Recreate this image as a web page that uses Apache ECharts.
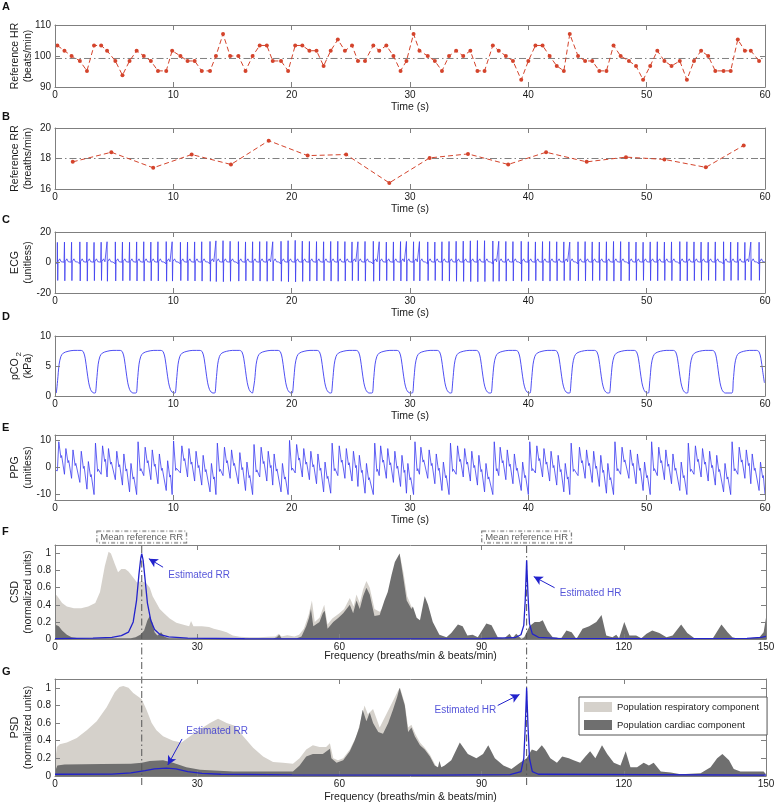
<!DOCTYPE html>
<html><head><meta charset="utf-8">
<script src="https://cdn.jsdelivr.net/npm/echarts@6/dist/echarts.min.js"></script>
<style>html,body{margin:0;padding:0;background:#fff}#c{width:778px;height:806px}</style>
</head><body><div id="c"></div><script>
// ---------- Panel A: reference HR ----------
const hrTimes = [0.2,0.8,1.4,2.1,2.7,3.3,3.9,4.4,5.1,5.7,6.3,6.9,7.5,8.1,8.7,9.4,9.9,10.6,11.2,11.8,
12.4,13.1,13.6,14.2,14.8,15.5,16.1,16.7,17.3,17.9,18.4,19.1,19.7,20.3,20.9,21.5,22.1,22.7,23.3,23.9,
24.5,25.1,25.6,26.2,26.9,27.4,28.0,28.6,29.2,29.7,30.3,30.8,31.5,32.1,32.7,33.3,33.9,34.5,35.1,35.7,
36.3,37.0,37.5,38.1,38.7,39.4,40.0,40.6,41.2,41.8,42.4,43.0,43.5,44.2,44.8,45.4,46.0,46.6,47.2,47.8,
48.5,49.1,49.7,50.3,50.9,51.5,52.1,52.8,53.4,54.0,54.6,55.2,55.8,56.5,57.1,57.7,58.3,58.8,59.5];
const hrValues = [103.4,101.7,100,98.4,95.2,103.4,103.4,101.7,98.4,93.8,98.4,101.7,100,98.4,95.2,95.2,101.7,100,98.4,98.4,
95.2,95.2,100,107.1,100,100,95.2,100,103.4,103.4,98.4,98.4,95.2,103.4,103.4,101.7,101.7,96.8,101.7,105.3,
101.7,103.4,98.4,98.4,103.4,101.7,103.4,100,95.2,98.4,107.1,101.7,100,98.4,95.2,100,101.7,100,101.7,95.2,
95.2,103.4,101.7,100,98.4,92.3,98.4,103.4,103.4,100,96.8,95.2,107.1,100,98.4,98.4,95.2,95.2,103.4,100,
98.4,96.8,92.3,96.8,101.7,98.4,96.8,98.4,92.3,98.4,101.7,100,95.2,95.2,95.2,105.3,101.7,101.7,98.4];
const hrMean = 99.2;

// ---------- Panel B: reference RR ----------
const rrTimes = [1.5,4.76,8.3,11.55,14.87,18.06,21.35,24.6,28.25,31.66,34.9,38.3,41.5,44.93,48.25,51.5,55.0,58.2];
const rrValues = [17.78,18.41,17.39,18.26,17.61,19.17,18.19,18.26,16.4,18.04,18.3,17.61,18.41,17.78,18.09,17.94,17.42,18.86];
const rrMean = 18.0;

// ---------- Panel C: ECG (R-peak per beat at hrTimes) ----------
const ecgR = [13.2,13.4,13.3,13.5,13.4,13.2,13.3,13.6,13.5,13.4,13.3,13.5,13.6,13.4,13.6,13.7,13.6,13.3,13.4,13.5,
13.6,13.8,14.2,14.3,13.9,13.7,13.5,13.6,13.7,13.8,13.6,13.9,14.3,14.5,14.0,13.8,13.7,13.6,13.8,13.9,
13.7,13.5,13.6,13.8,13.9,13.6,13.4,13.5,13.7,13.8,13.6,13.7,13.5,13.4,13.6,13.8,13.9,14.0,14.2,14.4,
14.3,14.1,13.9,13.8,13.7,13.9,13.6,13.5,13.7,13.8,13.6,13.5,13.4,13.6,13.7,13.5,13.4,13.6,13.8,13.7,
13.5,13.4,13.3,13.5,13.6,13.4,13.5,13.7,13.6,13.5,13.4,13.3,13.5,13.6,13.4,13.3,13.2,13.4,13.3];
const ecgS = [-11.8,-12.0,-11.9,-12.1,-12.2,-11.9,-11.8,-12.3,-12.1,-12.0,-11.9,-12.1,-12.2,-12.0,-12.1,-12.3,-12.2,-11.9,-12.0,-12.1,
-12.2,-12.3,-12.5,-12.6,-12.3,-12.2,-12.0,-12.1,-12.2,-12.3,-12.1,-12.3,-12.6,-12.7,-12.4,-12.2,-12.1,-12.0,-12.2,-12.3,
-12.1,-11.9,-12.0,-12.2,-12.3,-12.0,-11.9,-12.0,-12.1,-12.2,-12.0,-12.1,-11.9,-11.8,-12.0,-12.2,-12.3,-12.4,-12.5,-12.6,
-12.5,-12.4,-12.3,-12.2,-12.1,-12.3,-12.0,-11.9,-12.1,-12.2,-12.0,-11.9,-11.8,-12.0,-12.1,-11.9,-11.8,-12.0,-12.2,-12.1,
-11.9,-11.8,-11.7,-11.9,-12.0,-11.8,-11.9,-12.1,-12.0,-11.9,-11.8,-11.7,-11.9,-12.0,-11.8,-11.7,-11.6,-11.8,-11.7];
const ecgTemplate = [[-0.2,0.3],[-0.16,1.3],[-0.12,0.4],[-0.04,0.2],[-0.02,-0.8],[0,'R'],[0.03,'S'],[0.06,0.6],[0.14,1.0],[0.2,2.4],[0.26,2.6],[0.32,0.5]];

// ---------- Panel D: pCO2 (breath onsets) ----------
const pco2Onsets = [0.1,3.4,6.85,10.15,13.5,16.75,20.05,23.35,26.8,30.2,33.5,36.85,40.15,43.5,46.85,50.15,53.45,57.2];
const pco2Shape = [[0,0.5],[0.12,2.6],[0.25,5.3],[0.4,6.6],[0.6,7.15],[1.0,7.45],[1.5,7.6],[2.1,7.6],[2.3,7.35],[2.45,6.3],[2.6,4.2],[2.75,2.2],[2.9,1.1],[3.05,0.65],[3.2,0.5]];

// ---------- Panel E: PPG (foot / peak per beat) ----------
const ppgFoot = [-1.2,-2.5,-4,-5.5,-8, -10,-2.5,-3.5,-4.5,-6.5,-9, -10,-3,-4.5,-6,-8.5, -10,-2,-3.5,-5,-6.5,-9,
-10,-3,-4,-6,-8.5, -10,-3.5,-5,-6.5,-9, -10,-2,-3.5,-4.5,-6,-9, -9.5,-3,-4,-5,-7,-9.5, -10,-3,-4,-5.5,-7,-9.5,
-10,-2.5,-4,-6,-8.5, -10,-2.5,-3.5,-5,-6.5,-9, -10,-3,-4.5,-6,-8.5, -10,-2,-3.5,-5,-6.5,-9, -10,-3,-4,-5.5,-7,-9.5,
-10,-2.5,-4,-6,-8.5, -10,-3,-4.5,-6,-8.5, -10,-2.5,-3.5,-5,-6.5,-9, -10,-2.5,-4,-6,-8.5];
const ppgPeak = [9.5,7,6.5,6,2.2, 9,8,7,6,5,1.5, 9.5,7.5,6.5,5,2.5, 9.8,8,7,6,4.5,1.5,
9,7.5,6.5,5.5,2, 8.5,7.5,6,5,1.5, 10,8.5,7,6,5,2, 9,8,7,6,4.5,1.5, 9,8,7,6,4.5,1.5,
9.5,7.5,6.5,5,2, 9,8,7,6,4.5,1.5, 9.5,7.5,6.5,5,2, 9.5,8,7,6,4.5,1.5, 9,7.5,6.5,6,4.5,1.5,
9.5,7.5,6.5,5,2, 9.5,7.5,6.5,5,2, 9,8,7,6,4.5,1.5, 9.5,7.5,6.5,5,2];

// ---------- Panel F: CSD ----------
const csdResp = [[0,0.53],[0.5,0.5],[1.5,0.42],[2.5,0.38],[4,0.36],[5.5,0.36],[7,0.38],[8.5,0.42],[9.5,0.55],[10.5,0.85],[11.3,1.02],[11.8,1.0],[12.6,0.88],[13.3,0.78],[14,0.82],[14.8,0.82],[15.5,0.79],[16.5,0.72],[17.3,0.66],[18.3,0.68],[19.3,0.65],[20,0.6],[20.6,0.5],[21.4,0.42],[22.1,0.35],[23,0.3],[24.2,0.24],[25.6,0.19],[27.5,0.16],[28.3,0.15],[28.7,0.21],[29.2,0.15],[31,0.15],[32.5,0.14],[33.5,0.12],[35,0.1],[36.2,0.08],[37.5,0.04],[39,0.025],[41,0.02],[43,0.02],[45,0.025],[46.5,0.03],[47.2,0.06],[47.8,0.03],[49,0.045],[50.5,0.03],[51.5,0.05],[52.5,0.12],[53.5,0.28],[54.2,0.45],[54.8,0.2],[55.8,0.25],[56.8,0.4],[57.5,0.17],[58.5,0.24],[60,0.3],[61,0.35],[62.2,0.48],[63,0.38],[63.6,0.52],[64.3,0.42],[65,0.58],[65.7,0.68],[66.4,0.6],[67.4,0.35],[68.5,0.32],[69.9,0.42],[71,0.6],[72,0.85],[72.7,1.0],[73.5,0.78],[74.3,0.5],[75.2,0.38],[76.5,0.2],[78,0.1],[80,0.02],[150,0.01]];
const csdCard = [[0,0.17],[0.8,0.15],[1.5,0.1],[2.5,0.05],[3.5,0.02],[5,0.01],[16,0.01],[17,0.02],[18,0.05],[18.8,0.1],[19.5,0.22],[20,0.27],[20.5,0.2],[21,0.08],[21.6,0.04],[22.4,0.08],[23,0.03],[24,0.01],[46,0.005],[46.8,0.02],[47.3,0.05],[47.8,0.01],[51,0.01],[52,0.03],[53,0.15],[53.6,0.25],[54,0.35],[54.5,0.15],[55.8,0.2],[56.5,0.3],[56.9,0.33],[57.5,0.12],[58.7,0.2],[59.8,0.25],[60.8,0.3],[61.5,0.35],[62.2,0.4],[62.9,0.3],[63.6,0.45],[64.3,0.35],[65,0.5],[65.7,0.6],[66.4,0.52],[67.4,0.27],[68.5,0.28],[69.5,0.45],[70.2,0.55],[71,0.75],[71.7,0.9],[72.7,1.0],[73.4,0.75],[74.2,0.45],[75.2,0.35],[75.5,0.38],[76.3,0.25],[77,0.22],[78,0.5],[78.7,0.4],[79.7,0.2],[81.1,0.05],[82.6,0.02],[83.6,0.07],[85,0.17],[86,0.15],[87,0.04],[88.1,0.05],[89.2,0.02],[91,0.18],[92.1,0.16],[93.4,0.02],[94.8,0.01],[95.9,0.06],[96.5,0.01],[97.3,0.06],[98.4,0.0],[99,0.02],[100.1,0.15],[101.2,0.2],[102.2,0.2],[102.9,0.22],[103.9,0.1],[105,0.02],[106.8,0.01],[107.9,0.1],[109,0.08],[110,0.0],[111.3,0.12],[112.7,0.15],[114.2,0.2],[115.3,0.28],[116.3,0.04],[117.6,0.02],[118.4,0.05],[119,0.01],[120.1,0.2],[121.2,0.04],[122.6,0.04],[123.7,0.01],[124.8,0.06],[126,0.1],[127.5,0.07],[129,0.02],[130.3,0.04],[132.1,0.17],[133.4,0.07],[134.9,0.01],[136.6,0.0],[138.7,0.0],[140.6,0.17],[141.9,0.08],[142.9,0.02],[144.4,0.0],[148.6,0.02],[149.5,0.08],[150,0.25]];
const csdEst = [[0,0.005],[8,0.01],[12,0.02],[14,0.04],[15.5,0.08],[16.5,0.2],[17.2,0.45],[17.7,0.75],[18.1,0.95],[18.3,1.0],[18.6,0.92],[19,0.7],[19.5,0.42],[20.2,0.22],[21,0.11],[22.2,0.05],[24,0.025],[28,0.01],[40,0.003],[60,0.002],[90,0.004],[97,0.015],[98.3,0.05],[98.9,0.16],[99.2,0.45],[99.5,0.92],[99.8,0.5],[100.1,0.18],[100.7,0.06],[102,0.02],[106,0.008],[130,0.004],[146,0.008],[149,0.02],[150,0.03]];

// ---------- Panel G: PSD ----------
const psdResp = [[0,0.15],[0.4,0.33],[1,0.36],[2.5,0.38],[4.6,0.43],[6.7,0.52],[8.8,0.62],[10.9,0.78],[12.6,0.95],[13.6,1.01],[14.4,1.02],[15.5,1.0],[16.5,0.94],[17.6,0.9],[18.3,0.87],[19.3,0.75],[20.4,0.6],[21.4,0.52],[22.8,0.45],[24.9,0.4],[26.7,0.38],[28.5,0.45],[30.6,0.53],[32.7,0.6],[34.4,0.65],[36.2,0.6],[37.9,0.57],[39.7,0.45],[41.8,0.32],[43.9,0.22],[46,0.16],[48.1,0.15],[50.2,0.14],[51.6,0.2],[53,0.3],[54.4,0.35],[55.8,0.33],[57.2,0.33],[58,0.37],[58.7,0.2],[59.7,0.18],[60.8,0.2],[62.2,0.3],[63.6,0.45],[64.6,0.65],[65.3,0.8],[66,0.7],[67.1,0.76],[68.5,0.55],[69.9,0.7],[71.3,0.85],[72.4,0.97],[72.8,1.0],[73.8,0.82],[74.5,0.55],[75.2,0.58],[76,0.48],[77,0.38],[78,0.32],[79.1,0.24],[80.1,0.14],[81,0.05],[90,0.02],[150,0.02]];
const psdCard = [[0,0.05],[0.5,0.12],[2,0.13],[10,0.135],[16,0.14],[18.3,0.15],[20,0.17],[22.8,0.18],[24.9,0.15],[27.7,0.1],[30.6,0.07],[37.6,0.05],[50.2,0.05],[51.6,0.12],[53,0.22],[54.4,0.25],[56.5,0.25],[58,0.31],[58.3,0.2],[59.4,0.15],[60.8,0.18],[62.2,0.28],[63.2,0.4],[64.2,0.55],[64.9,0.75],[65.7,0.62],[66.4,0.72],[67.1,0.6],[68.2,0.5],[69.2,0.48],[70.3,0.6],[71.3,0.75],[72.2,0.9],[72.7,1.0],[73.8,0.8],[74.5,0.5],[75.2,0.55],[75.9,0.45],[77,0.35],[78,0.3],[79.1,0.22],[80.1,0.12],[80.8,0.1],[81.1,0.17],[81.5,0.1],[82.2,0.12],[83.6,0.18],[85.4,0.38],[87.1,0.25],[88.9,0.2],[90.3,0.25],[91.4,0.35],[92.8,0.2],[94.6,0.12],[96.3,0.08],[98.1,0.15],[99.5,0.2],[100.6,0.3],[101.6,0.28],[102.7,0.35],[103.4,0.3],[104.5,0.2],[105.9,0.15],[107,0.22],[108.4,0.2],[109.4,0.18],[110.8,0.15],[111.9,0.22],[112.9,0.28],[114,0.2],[115.4,0.35],[116.5,0.25],[117.9,0.15],[119.3,0.12],[120.4,0.28],[121.4,0.1],[122.8,0.1],[124.2,0.15],[125.3,0.12],[126.3,0.15],[127.8,0.05],[129.9,0.04],[132,0.02],[136.2,0.03],[138.3,0.1],[139.7,0.2],[140.8,0.25],[142.2,0.18],[143.2,0.08],[144.6,0.05],[149.5,0.05],[150,0.02]];
const psdEst = [[0,0.02],[12,0.022],[16,0.035],[19,0.06],[21,0.08],[23.5,0.09],[25.5,0.08],[28,0.05],[31,0.03],[35,0.02],[50,0.012],[80,0.01],[96,0.015],[98.3,0.05],[98.9,0.2],[99.2,0.55],[99.5,1.0],[99.8,0.55],[100.1,0.2],[100.7,0.05],[102,0.02],[150,0.01]];

const specRefRR = 18.3, specRefHR = 99.5;
const spectrumYTicks = [0,0.2,0.4,0.6,0.8,1];

// ---------- build waveforms from the arrays ----------
const ecgData = [[0,0.3]];
hrTimes.forEach((t,i)=>{ ecgTemplate.forEach(([dt,v])=>{ const val = v==='R'?ecgR[i]:(v==='S'?ecgS[i]:v); const x=t+dt; if(x>=0&&x<=60) ecgData.push([x,val]); }); });
ecgData.push([60,0.3]);

const pco2Data = [[0,0.4]];
pco2Onsets.forEach(o=>{ pco2Shape.forEach(([dt,v])=>{ if(o+dt<=60) pco2Data.push([o+dt,v]); }); });

const ppgData = [[0,-1]];
hrTimes.forEach((t,i)=>{ const f=ppgFoot[i], p=ppgPeak[i]; const n=f+0.45*(p-f);
  [[0,f],[0.12,p],[0.3,n],[0.36,n+0.8]].forEach(([dt,v])=>{ if(t+dt<=60) ppgData.push([t+dt,v]); }); });
ppgData.push([60,-10]);

// ---------- layout ----------
const FONT = 'Liberation Sans, Arial, Helvetica, sans-serif';
const AX = '#7f7f7f';
const RED = '#d4442c', BLUE = '#2222cc', SIG = '#3b3bf0';
const LIGHT = '#d5d1cb', DARK = '#6f6f6f';
const panels = [
 {top:25, h:62, right:13, x:[0,60,10], y:[90,110,10], yname:'Reference HR\n(beats/min)', xname:'Time (s)', gap:15},
 {top:128, h:61, right:13, x:[0,60,10], y:[16,20,2], yname:'Reference RR\n(breaths/min)', xname:'Time (s)', gap:15},
 {top:232, h:61, right:13, x:[0,60,10], y:[-20,20,20], yname:'ECG\n(unitless)', xname:'Time (s)', gap:15},
 {top:336, h:60, right:13, x:[0,60,10], y:[0,10,5], yname:'pCO{s|2}\n(kPa)', xname:'Time (s)', gap:15},
 {top:435, h:65, right:13, x:[0,60,10], y:[-12,12,null], ycustom:[-10,0,10], yname:'PPG\n(unitless)', xname:'Time (s)', gap:15},
 {top:545, h:94, right:12, x:[0,150,30], y:[0,1.1,null], ycustom:spectrumYTicks, yname:'CSD\n(normalized units)', xname:'Frequency (breaths/min & beats/min)', gap:12},
 {top:679, h:97, right:12, x:[0,150,30], y:[0,1.1,null], ycustom:spectrumYTicks, yname:'PSD\n(normalized units)', xname:'Frequency (breaths/min & beats/min)', gap:16}
];
const grids=[], xAxes=[], yAxes=[];
const txt = {fontFamily:FONT, color:'#1a1a1a'};
panels.forEach((p,i)=>{
  grids.push({left:55, right:p.right, top:p.top, height:p.h, show:false, containLabel:false, outerBoundsMode:'none'});
  const baseX = {gridIndex:i, type:'value', min:p.x[0], max:p.x[1], interval:p.x[2], z:10, nameMoveOverlap:false,
    axisLine:{show:true, onZero:false, lineStyle:{color:AX}}, axisTick:{show:true, inside:true, length:5, lineStyle:{color:AX}}, splitLine:{show:false}};
  xAxes.push(Object.assign({}, baseX, {position:'bottom', axisLabel:Object.assign({fontSize:10, margin:3}, txt),
    name:p.xname, nameLocation:'middle', nameGap:p.gap, nameTextStyle:Object.assign({fontSize:10.5}, txt)}));
  xAxes.push(Object.assign({}, baseX, {position:'top', axisLabel:{show:false}}));
  const baseY = {gridIndex:i, type:'value', min:p.y[0], max:p.y[1], z:10, nameMoveOverlap:false,
    axisLine:{show:true, onZero:false, lineStyle:{color:AX}}, axisTick:{show:true, inside:true, length:5, lineStyle:{color:AX}}, splitLine:{show:false}};
  if (p.y[2]) baseY.interval = p.y[2];
  if (p.ycustom) baseY.axisTick.customValues = p.ycustom;
  const lab = Object.assign({fontSize:10, margin:4}, txt);
  if (p.ycustom) lab.customValues = p.ycustom;
  yAxes.push(Object.assign({}, baseY, {position:'left', axisLabel:lab,
    name:p.yname, nameLocation:'middle', nameGap:20, nameRotate:90,
    nameTextStyle:Object.assign({fontSize:10.5, lineHeight:13, align:'center', rich:{s:{fontSize:8, fontFamily:FONT, color:'#1a1a1a', padding:[6,0,0,2]}}}, txt)}));
  yAxes.push(Object.assign({}, baseY, {position:'right', axisLabel:{show:false}}));
});
// overlay grid for the mean-reference lines that span panels F and G
grids.push({left:55, right:12, top:543, height:242, show:false, containLabel:false, outerBoundsMode:'none'});
xAxes.push({gridIndex:7, type:'value', min:0, max:150, show:false});
yAxes.push({gridIndex:7, type:'value', min:0, max:1, show:false});

const P = i => ({xAxisIndex:2*i, yAxisIndex:2*i});
const dashDot = [7,3,1.5,3];
const series = [];
// A
series.push(Object.assign({type:'line', data:[[0,hrMean],[60,hrMean]], symbol:'none', lineStyle:{color:'#808080', width:1, type:dashDot}, z:3}, P(0)));
series.push(Object.assign({type:'line', data:hrTimes.map((t,i)=>[t,hrValues[i]]), symbol:'circle', symbolSize:4,
  itemStyle:{color:RED}, lineStyle:{color:RED, width:1, type:[5,3]}, z:4}, P(0)));
// B
series.push(Object.assign({type:'line', data:[[0,rrMean],[60,rrMean]], symbol:'none', lineStyle:{color:'#808080', width:1, type:dashDot}, z:3}, P(1)));
series.push(Object.assign({type:'line', data:rrTimes.map((t,i)=>[t,rrValues[i]]), symbol:'circle', symbolSize:4,
  itemStyle:{color:RED}, lineStyle:{color:RED, width:1, type:[5,3]}, z:4}, P(1)));
// C, D, E
series.push(Object.assign({type:'line', data:ecgData, symbol:'none', lineStyle:{color:SIG, width:0.8}, z:4}, P(2)));
series.push(Object.assign({type:'line', data:pco2Data, symbol:'none', smooth:0.3, lineStyle:{color:SIG, width:0.9}, z:4}, P(3)));
series.push(Object.assign({type:'line', data:ppgData, symbol:'none', lineStyle:{color:SIG, width:0.8}, z:4}, P(4)));
// F, G areas and estimates
function areaSeries(i, name, data, color, z){
  return Object.assign({type:'line', name, data, symbol:'none', lineStyle:{width:0}, itemStyle:{color}, areaStyle:{color, opacity:1}, z}, P(i));
}
series.push(areaSeries(5,'Population respiratory component',csdResp,LIGHT,2));
series.push(areaSeries(5,'Population cardiac component',csdCard,DARK,3));
series.push(Object.assign({type:'line', data:csdEst, symbol:'none', lineStyle:{color:BLUE, width:1.3}, z:12}, P(5)));
series.push(areaSeries(6,'Population respiratory component',psdResp,LIGHT,2));
series.push(areaSeries(6,'Population cardiac component',psdCard,DARK,3));
series.push(Object.assign({type:'line', data:psdEst, symbol:'none', lineStyle:{color:BLUE, width:1.3}, z:12}, P(6)));
// mean reference lines spanning F and G
const boxLabel = t => ({show:true, formatter:t, position:'top', distance:0, fontFamily:FONT, fontSize:9.5, color:'#333',
  borderColor:'#555', borderWidth:1, borderType:[4,2,1,2], padding:[1,3,0,3], backgroundColor:'#fff'});
[[specRefRR,'Mean reference RR'],[specRefHR,'Mean reference HR']].forEach(([f,t])=>{
  series.push({type:'line', xAxisIndex:14, yAxisIndex:14, data:[[f,0],[f,1]], symbol:'none', lineStyle:{color:'#555', width:1, type:dashDot}, z:6, silent:true});
  series.push({type:'scatter', xAxisIndex:14, yAxisIndex:14, data:[[f,1]], symbolSize:1, itemStyle:{color:'transparent'}, label:boxLabel(t), z:7, silent:true});
});
// annotations
const annTxt = {fontFamily:FONT, fontSize:10, color:'#2b2bd0'};
function annotation(i, pos, text, align, arrowFrom, arrowTo){
  return Object.assign({type:'scatter', data:[{value:pos, name:text}], symbolSize:1, itemStyle:{color:'transparent'}, z:13,
    label:Object.assign({show:true, formatter:'{b}', position:align==='left'?'right':'left', distance:0}, annTxt),
    markLine:{silent:true, symbol:['none','arrow'], symbolSize:[7,9], label:{show:false}, lineStyle:{color:BLUE, width:1, type:'solid'},
      data:[[{coord:arrowFrom},{coord:arrowTo}]]}}, P(i));
}
series.push(annotation(5,[23.8,0.75],'Estimated RR','left',[22.8,0.84],[19.8,0.94]));
series.push(annotation(5,[106.4,0.54],'Estimated HR','left',[105.4,0.6],[101,0.73]));
series.push(annotation(6,[27.6,0.51],'Estimated RR','left',[26.8,0.42],[23.8,0.125]));
series.push(annotation(6,[93.2,0.745],'Estimated HR','right',[93.4,0.8],[98,0.925]));

const letters = [['A',1],['B',111],['C',214],['D',311],['E',422],['F',526],['G',666]];
const option = {
  animation:false, backgroundColor:'#fff',
  title: letters.map(([t,y])=>({text:t, left:2, top:y, padding:0, textStyle:{fontFamily:FONT, fontSize:11, fontWeight:'bold', color:'#111'}})),
  legend:{data:[{name:'Population respiratory component', icon:'rect'},{name:'Population cardiac component', icon:'rect'}],
    orient:'vertical', left:579, top:697, itemWidth:28, itemHeight:10, itemGap:8, padding:[5,8,5,5], selectedMode:false,
    borderColor:'#555', borderWidth:1, backgroundColor:'#fff', textStyle:{fontFamily:FONT, fontSize:9.5, color:'#222'}, z:20},
  grid:grids, xAxis:xAxes, yAxis:yAxes, series
};
const chart = echarts.init(document.getElementById('c'), null, {renderer:'canvas'});
chart.setOption(option);
</script></body></html>
